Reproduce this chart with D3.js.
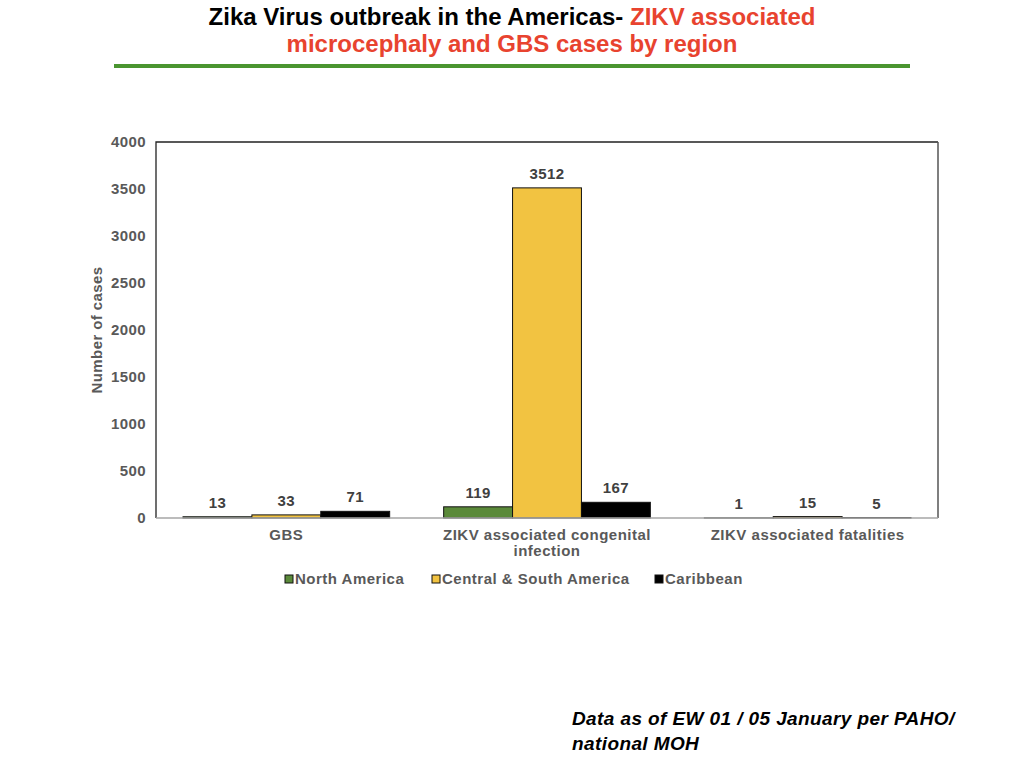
<!DOCTYPE html>
<html>
<head>
<meta charset="utf-8">
<script src="https://cdn.jsdelivr.net/npm/d3@7"></script>
<style>
body { margin:0; background:#fff; }
svg text { font-family: "Liberation Sans", Arial, sans-serif; }
</style>
</head>
<body>
<script>
// data
var categories = ["GBS", "ZIKV associated congenital infection", "ZIKV associated fatalities"];
var catLines = [["GBS"], ["ZIKV associated congenital", "infection"], ["ZIKV associated fatalities"]];
var series = ["North America", "Central & South America", "Caribbean"];
var northAmerica = [13, 119, 1];
var centralSouth = [33, 3512, 15];
var caribbean = [71, 167, 5];
var yTicks = [0, 500, 1000, 1500, 2000, 2500, 3000, 3500, 4000];
var colors = ["#5b8a3a", "#f2c341", "#000000"];

var svg = d3.select("body").append("svg")
    .attr("width", 1024)
    .attr("height", 768);

// title
var t = svg.append("text").attr("text-anchor", "middle").attr("font-weight", "bold")
    .attr("font-size", 24);
var t1 = t.append("tspan").attr("x", 512).attr("y", 25);
t1.append("tspan").attr("fill", "#000").text("Zika Virus outbreak in the Americas- ");
t1.append("tspan").attr("fill", "#e8432f").text("ZIKV associated");
t.append("tspan").attr("x", 512).attr("y", 52).attr("fill", "#e8432f").text("microcephaly and GBS cases by region");

svg.append("line").attr("x1", 114).attr("x2", 910).attr("y1", 66).attr("y2", 66)
    .attr("stroke", "#4a9530").attr("stroke-width", 4);

// plot area
var pLeft = 156, pRight = 938, pTop = 142, pBottom = 518;
var x0 = d3.scaleBand().domain(categories).range([pLeft, pRight]).paddingInner(0).paddingOuter(0);
var x1 = d3.scaleBand().domain(series).range([27, x0.bandwidth() - 27]);
var y = d3.scaleLinear().domain([0, 4000]).range([pBottom, pTop]);

var data = categories.map(function(c, i) {
  return { cat: c, vals: [northAmerica[i], centralSouth[i], caribbean[i]] };
});

// frame
svg.append("path").attr("d", "M" + pLeft + "," + pBottom + "V" + pTop + "H" + pRight)
    .attr("fill", "none").attr("stroke", "#222").attr("stroke-width", 1.3);
svg.append("line").attr("x1", pRight).attr("x2", pRight).attr("y1", pTop).attr("y2", pBottom)
    .attr("stroke", "#555").attr("stroke-width", 1.5);

// y axis
var yAxis = svg.append("g").attr("transform", "translate(" + pLeft + ",0)")
    .call(d3.axisLeft(y).tickValues(yTicks).tickFormat(d3.format("d")).tickSize(0).tickPadding(10));
yAxis.select(".domain").remove();
yAxis.selectAll("text").attr("font-size", 15).attr("font-weight", "bold").attr("fill", "#595959")
    .style("letter-spacing", "0.4px")
    .style("font-family", "'Liberation Sans', Arial, sans-serif");

svg.append("text").attr("transform", "translate(102," + (pTop + pBottom) / 2 + ") rotate(-90)")
    .attr("text-anchor", "middle").attr("font-size", 15).attr("font-weight", "bold").attr("fill", "#595959")
    .style("letter-spacing", "0.4px")
    .text("Number of cases");

// bars
var groups = svg.selectAll("g.cat").data(data).enter().append("g").attr("class", "cat")
    .attr("transform", function(d) { return "translate(" + x0(d.cat) + ",0)"; });

groups.selectAll("rect").data(function(d) { return d.vals.map(function(v, j) { return { s: series[j], v: v, j: j }; }); })
  .enter().append("rect")
    .attr("x", function(d) { return x1(d.s); })
    .attr("width", x1.bandwidth())
    .attr("y", function(d) { return y(d.v); })
    .attr("height", function(d) { return pBottom - y(d.v); })
    .attr("fill", function(d) { return colors[d.j]; })
    .attr("stroke", "#111").attr("stroke-width", 1);

groups.selectAll("text.val").data(function(d) { return d.vals.map(function(v, j) { return { s: series[j], v: v }; }); })
  .enter().append("text").attr("class", "val")
    .attr("x", function(d) { return x1(d.s) + x1.bandwidth() / 2; })
    .attr("y", function(d) { return y(d.v) - 9; })
    .attr("text-anchor", "middle").attr("font-size", 15).attr("font-weight", "bold").attr("fill", "#404040")
    .style("letter-spacing", "0.4px")
    .text(function(d) { return d.v; });

// x axis
svg.append("line").attr("x1", pLeft).attr("x2", pRight).attr("y1", pBottom).attr("y2", pBottom)
    .attr("stroke", "#a6a6a6").attr("stroke-width", 1.5);

var xl = svg.selectAll("text.catlab").data(categories).enter().append("text").attr("class", "catlab")
    .attr("text-anchor", "middle").attr("font-size", 15).attr("font-weight", "bold").attr("fill", "#595959")
    .style("letter-spacing", "0.5px");
xl.each(function(d, i) {
  var el = d3.select(this);
  catLines[i].forEach(function(line, k) {
    el.append("tspan").attr("x", x0(d) + x0.bandwidth() / 2).attr("y", 540 + k * 16).text(line);
  });
});

// legend
var legX = [285, 432, 655];
var leg = svg.selectAll("g.leg").data(series).enter().append("g").attr("class", "leg")
    .attr("transform", function(d, i) { return "translate(" + legX[i] + ",579)"; });
leg.append("rect").attr("x", 0).attr("y", -4).attr("width", 8).attr("height", 8)
    .attr("fill", function(d, i) { return colors[i]; }).attr("stroke", "#111").attr("stroke-width", 1);
leg.append("text").attr("x", 10).attr("y", 5).attr("font-size", 15).attr("font-weight", "bold")
    .style("letter-spacing", "0.5px")
    .attr("fill", "#595959").text(function(d) { return d; });

// footnote
var f = svg.append("text").attr("font-size", 19).attr("font-weight", "bold").attr("font-style", "italic").attr("fill", "#000")
    .style("letter-spacing", "0.4px");
f.append("tspan").attr("x", 572).attr("y", 725).text("Data as of EW 01 / 05 January per PAHO/");
f.append("tspan").attr("x", 572).attr("y", 750).text("national MOH");
</script>
</body>
</html>
